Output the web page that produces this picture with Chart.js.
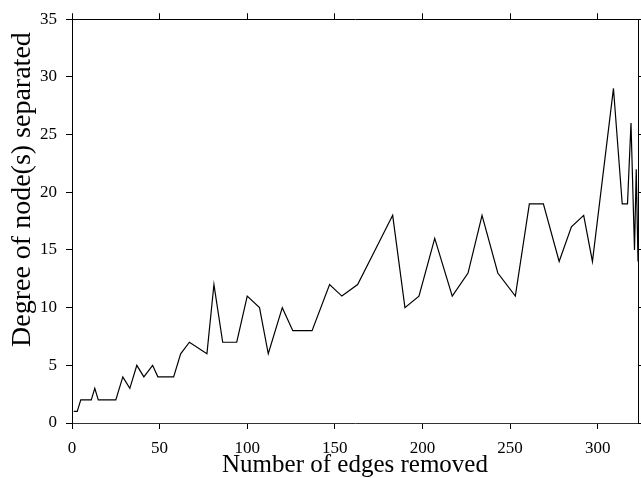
<!DOCTYPE html>
<html lang="en">
<head>
<meta charset="UTF-8">
<title>Degree of node(s) separated</title>
<script src="https://cdn.jsdelivr.net/npm/chart.js"></script>
<style>
    body { margin: 0; background: #fff; }
</style>
</head>
<body>
<canvas id="chart" width="641" height="478"></canvas>
<script>
// values
const edgesRemoved = [1, 3, 5, 11, 13, 15, 25, 29, 33, 37, 41, 46, 49, 58, 62, 67, 77, 81, 86, 94,
    100, 107, 112, 120, 126, 137, 147, 154, 163, 173, 183, 190, 198, 207, 217, 226, 234, 243, 253, 261,
    269, 278, 285, 292, 297, 309, 314, 317, 319, 321, 322, 323];
const degreeSeparated = [1, 1, 2, 2, 3, 2, 2, 4, 3, 5, 4, 5, 4, 4, 6, 7, 6, 12, 7, 7,
    11, 10, 6, 10, 8, 8, 12, 11, 12, 15, 18, 10, 11, 16, 11, 13, 18, 13, 11, 19,
    19, 14, 17, 18, 14, 29, 19, 19, 26, 15, 22, 14];
const xTicks = [0, 50, 100, 150, 200, 250, 300];
const yTicks = [0, 5, 10, 15, 20, 25, 30, 35];

const serif = "'Liberation Serif', 'DejaVu Serif', serif";
const points = edgesRemoved.map((x, i) => ({ x: x, y: degreeSeparated[i] }));

const setTicks = list => scale => { scale.ticks = list.map(v => ({ value: v })); };

function axis(pos, list, min, max, extra) {
    return Object.assign({
        type: 'linear',
        position: pos,
        display: true,
        min: min,
        max: max,
        afterBuildTicks: setTicks(list),
        border: { color: '#000', width: 1 },
        grid: { drawOnChartArea: false, drawTicks: true, tickLength: 6, color: '#000' },
        ticks: { display: false }
    }, extra);
}

new Chart(document.getElementById('chart').getContext('2d'), {
    type: 'line',
    data: {
        datasets: [{
            data: points,
            borderColor: '#000',
            borderWidth: 1.2,
            pointRadius: 0,
            tension: 0,
            fill: false,
            xAxisID: 'x',
            yAxisID: 'y'
        }]
    },
    options: {
        responsive: false,
        animation: false,
        devicePixelRatio: 1,
        layout: { padding: 0 },
        plugins: { legend: { display: false }, tooltip: { enabled: false } },
        scales: {
            x: axis('bottom', xTicks, 0, 323, {
                border: { color: '#333', width: 1 },
                ticks: { display: true, color: '#000', padding: 9, maxRotation: 0, font: { family: serif, size: 17 } },
                title: { display: true, text: 'Number of edges removed', color: '#000',
                    font: { family: serif, size: 25 }, padding: { top: 0, bottom: -2 } },
                afterFit: s => { s.height = 55; }
            }),
            x2: axis('top', xTicks, 0, 323, {
                afterFit: s => { s.height = 15; }
            }),
            y: axis('left', yTicks, 0, 35, {
                ticks: { display: true, color: '#000', padding: 9, font: { family: serif, size: 17 } },
                // leading spaces push the label up, the original sits above centre
                title: { display: true, text: '         Degree of node(s) separated', color: '#000',
                    font: { family: serif, size: 28 }, padding: { top: 6, bottom: 0 } },
                afterFit: s => { s.width = 72; }
            }),
            y2: axis('right', yTicks, 0, 35, {
                afterFit: s => { s.width = 3; }
            })
        }
    }
});
</script>
</body>
</html>
